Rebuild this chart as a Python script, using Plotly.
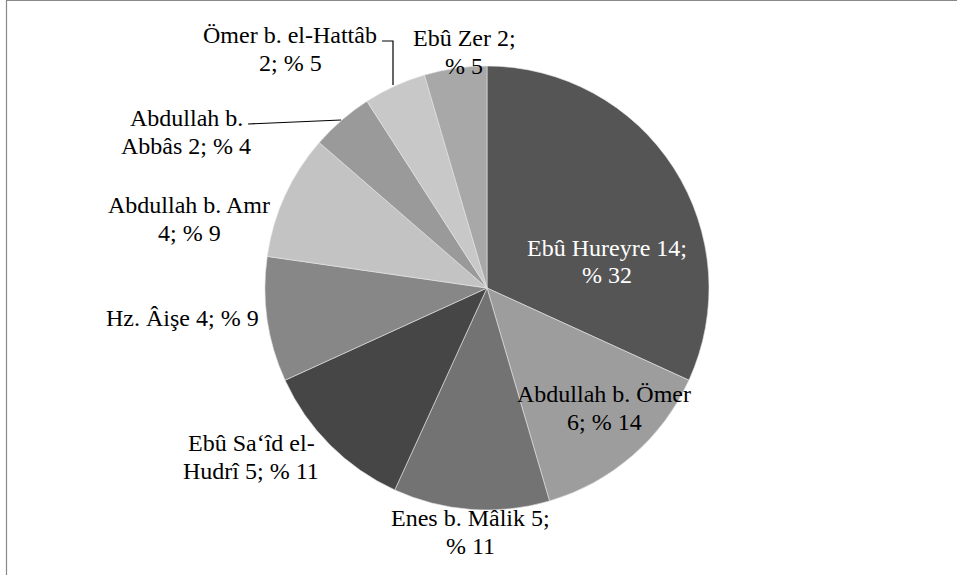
import plotly.graph_objects as go

W, H = 957, 575

names = ["Ebû Hureyre", "Abdullah b. Ömer", "Enes b. Mâlik", "Ebû Sa‘îd el-Hudrî",
         "Hz. Âişe", "Abdullah b. Amr", "Abdullah b. Abbâs", "Ömer b. el-Hattâb", "Ebû Zer"]
values = [14, 6, 5, 5, 4, 4, 2, 2, 2]
percents = [32, 14, 11, 11, 9, 9, 4, 5, 5]
colors = ["#555555", "#9d9d9d", "#737373", "#464646", "#878787",
          "#c3c3c3", "#9a9a9a", "#c8c8c8", "#a8a8a8"]
label_colors = ["#ffffff", "#000000", "#000000", "#000000", "#000000",
                "#000000", "#000000", "#000000", "#000000"]
label_lines = [
    ["Ebû Hureyre 14;", "% 32"],
    ["Abdullah b. Ömer", "6; % 14"],
    ["Enes b. Mâlik 5;", "% 11"],
    ["Ebû Sa‘îd el-", "Hudrî 5; % 11"],
    ["Hz. Âişe 4; % 9"],
    ["Abdullah b. Amr", "4; % 9"],
    ["Abdullah b.", "Abbâs 2; % 4"],
    ["Ömer b. el-Hattâb", "2; % 5"],
    ["Ebû Zer 2;", "% 5"],
]
# label block placement in pixels: centre x, first-line centre y
label_pos = [(607, 248), (604, 394), (470, 518), (251, 443), (182, 318),
             (189, 205), (186, 118), (290, 35), (464, 38)]
LINE_STEP = 27.5

def px(x):
    return x / W

def py(y):
    return 1 - y / H

cx, cy, r = 487, 288, 222

fig = go.Figure(go.Pie(
    labels=names, values=values, sort=False, direction="clockwise", rotation=0,
    marker=dict(colors=colors, line=dict(color="#e6e6e6", width=0.6)),
    textinfo="none", hoverinfo="label+value+percent", showlegend=False,
    domain=dict(x=[px(cx - r), px(cx + r)], y=[py(cy + r), py(cy - r)]),
))

annotations = []
for lines, (x, y), col in zip(label_lines, label_pos, label_colors):
    for i, line in enumerate(lines):
        annotations.append(dict(
            x=px(x), y=py(y + i * LINE_STEP), xref="paper", yref="paper", text=line,
            showarrow=False, xanchor="center", yanchor="middle", align="center",
            font=dict(family="Liberation Serif", size=24, color=col),
        ))

shapes = [
    # chart border (only top and left visible)
    dict(type="rect", xref="paper", yref="paper", x0=px(6.5), x1=2.0, y0=-1.0, y1=py(0.5),
         line=dict(color="#888888", width=1.2), fillcolor="rgba(0,0,0,0)"),
    # leader lines
    dict(type="path", xref="paper", yref="paper",
         path=f"M {px(248)} {py(124)} L {px(341)} {py(120)}",
         line=dict(color="#000000", width=1.2)),
    dict(type="path", xref="paper", yref="paper",
         path=f"M {px(382)} {py(41)} L {px(393)} {py(41)} L {px(393)} {py(85)}",
         line=dict(color="#000000", width=1.2)),
]

fig.update_layout(
    width=W, height=H, margin=dict(l=0, r=0, t=0, b=0),
    paper_bgcolor="#ffffff", plot_bgcolor="#ffffff",
    annotations=annotations, shapes=shapes,
    font=dict(family="Liberation Serif"),
)

fig.write_html("out.html", config={"displayModeBar": False},
               post_script="document.body.style.margin='0';document.body.style.overflow='hidden';")
